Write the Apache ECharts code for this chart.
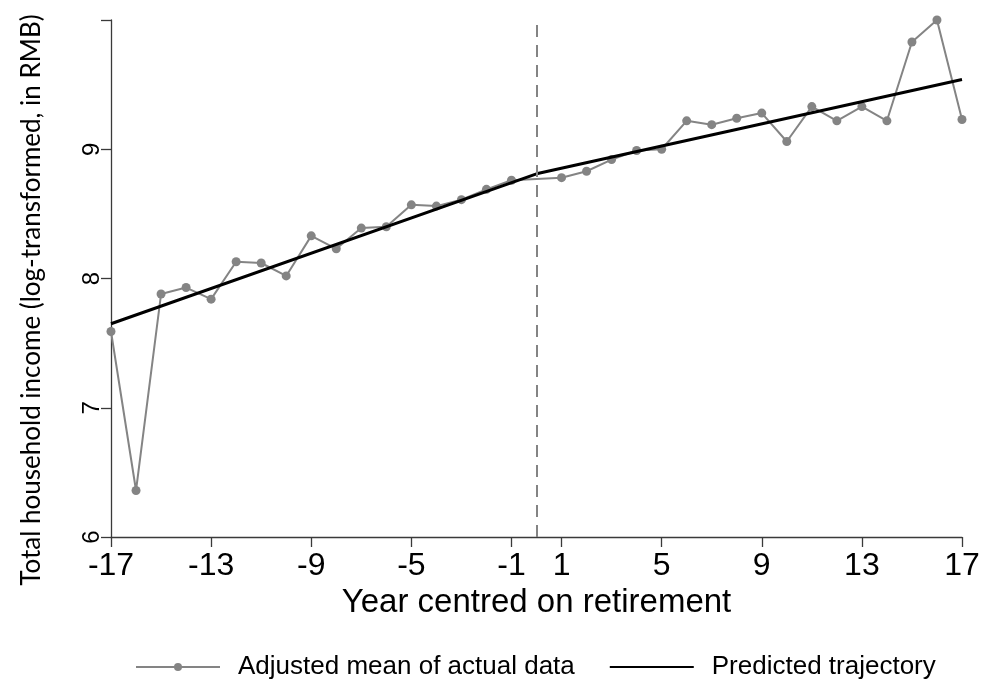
<!DOCTYPE html>
<html>
<head>
<meta charset="utf-8">
<script src="https://cdn.jsdelivr.net/npm/echarts@6/dist/echarts.min.js"></script>
<style>
  html, body { margin: 0; padding: 0; background: #ffffff; }
  #chart { width: 990px; height: 680px; }
</style>
</head>
<body>
<div id="chart"></div>
<script>
// Years relative to retirement (no observation at year 0)
const years = [-17, -16, -15, -14, -13, -12, -11, -10, -9, -8, -7, -6, -5, -4, -3, -2, -1,
               1, 2, 3, 4, 5, 6, 7, 8, 9, 10, 11, 12, 13, 14, 15, 16, 17];
// Adjusted mean of log household income
const actualMeans = [7.59, 6.36, 7.88, 7.93, 7.84, 8.13, 8.12, 8.02, 8.33, 8.23, 8.39, 8.40, 8.57, 8.56, 8.61, 8.69, 8.76,
                     8.78, 8.83, 8.92, 8.99, 9.00, 9.22, 9.19, 9.24, 9.28, 9.06, 9.33, 9.22, 9.33, 9.22, 9.83, 10.00, 9.23];
// Predicted trajectory: two linear pieces joined at retirement
const predYears = [-17, 0, 17];
const predValues = [7.65, 8.81, 9.54];
const retirementYear = 0;

const xTicks = [-17, -13, -9, -5, -1, 1, 5, 9, 13, 17];
const yTicks = [6, 7, 8, 9, 10];
const yLabels = [6, 7, 8, 9];

const seriesNames = ['Adjusted mean of actual data', 'Predicted trajectory'];
const xTitle = 'Year centred on retirement';
const yTitle = 'Total household income (log-transformed, in RMB)';

const axisColor = '#3a3a3a';
const grey = '#848484';
const arial = 'Liberation Sans, Arial, sans-serif';

const chart = echarts.init(document.getElementById('chart'), null, { renderer: 'canvas' });

chart.setOption({
  animation: false,
  backgroundColor: '#ffffff',
  grid: { left: 111, right: 28, top: 20, bottom: 143, containLabel: false },
  legend: {
    data: [
      { name: seriesNames[0] },
      // the fitted line has no markers, so its legend key is a plain line
      { name: seriesNames[1], itemStyle: { opacity: 0 } }
    ],
    left: 130,
    top: 649,
    itemWidth: 84,
    itemHeight: 10,
    itemGap: 34,
    textStyle: { fontSize: 26, color: '#000', fontFamily: arial, padding: [0, 0, 0, 13] }
  },
  xAxis: {
    type: 'value',
    min: -17,
    max: 17,
    name: xTitle,
    nameLocation: 'middle',
    nameGap: 48,
    nameTextStyle: { fontSize: 33, color: '#000', fontFamily: arial },
    axisLine: { show: true, onZero: false, lineStyle: { color: axisColor, width: 1.3 } },
    axisTick: { show: true, customValues: xTicks, length: 10, lineStyle: { color: axisColor, width: 1.3 } },
    axisLabel: { customValues: xTicks, fontSize: 32, color: '#000', fontFamily: arial, margin: 13 },
    splitLine: { show: false }
  },
  yAxis: {
    type: 'value',
    min: 6,
    max: 10,
    axisLine: { show: true, onZero: false, lineStyle: { color: axisColor, width: 1.3 } },
    axisTick: { show: true, customValues: yTicks, length: 10, lineStyle: { color: axisColor, width: 1.3 } },
    axisLabel: { customValues: yLabels, rotate: 90, fontSize: 24, color: '#000', fontFamily: arial, margin: 7 },
    splitLine: { show: false }
  },
  graphic: [{
    type: 'text',
    x: 32,
    y: 300,
    rotation: Math.PI / 2,
    style: {
      text: yTitle,
      font: '26px Lato, "Open Sans", sans-serif',
      fill: '#000',
      textAlign: 'center',
      textVerticalAlign: 'middle'
    }
  }],
  series: [
    {
      name: seriesNames[0],
      type: 'line',
      data: years.map((yr, i) => [yr, actualMeans[i]]),
      symbol: 'circle',
      symbolSize: 9,
      showAllSymbol: true,
      lineStyle: { color: grey, width: 2 },
      itemStyle: { color: grey },
      z: 2,
      markLine: {
        silent: true,
        symbol: 'none',
        label: { show: false },
        lineStyle: { color: grey, width: 2, type: [12, 8] },
        data: [{ xAxis: retirementYear }]
      }
    },
    {
      name: seriesNames[1],
      type: 'line',
      data: predYears.map((yr, i) => [yr, predValues[i]]),
      symbol: 'none',
      lineStyle: { color: '#000000', width: 3 },
      itemStyle: { color: '#000000' },
      z: 3
    }
  ]
});
</script>
</body>
</html>
